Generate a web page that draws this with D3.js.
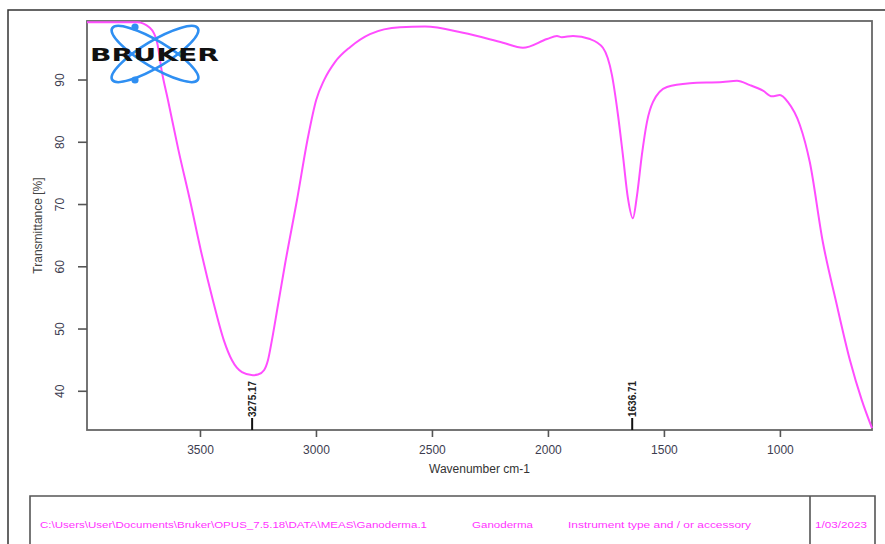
<!DOCTYPE html>
<html>
<head>
<meta charset="utf-8">
<script src="https://cdn.jsdelivr.net/npm/d3@7"></script>
<style>
  html, body { margin: 0; padding: 0; background: #fff; }
  svg { display: block; font-family: "Liberation Sans", Arial, sans-serif; }
</style>
</head>
<body>
<svg id="chart" width="885" height="544"></svg>
<script>
// ---- data ----
const wavenumbers = [3987, 3771, 3716, 3685, 3664, 3638, 3593, 3543, 3496, 3444, 3397, 3362, 3319, 3272, 3250, 3224, 3207, 3190, 3164, 3134, 3082, 3034, 2999, 2965, 2918, 2853, 2767, 2638, 2530, 2366, 2194, 2108, 2004, 1961, 1940, 1892, 1819, 1763, 1724, 1698, 1677, 1655, 1634, 1616, 1595, 1573, 1547, 1487, 1388, 1246, 1185, 1129, 1073, 1034, 1000, 966, 914, 871, 815, 759, 698, 647, 603];
const transmittance = [99.2, 99.2, 98.3, 96.0, 91.2, 86.7, 78.7, 70.6, 62.5, 54.5, 48.1, 44.9, 43.0, 42.5, 42.6, 43.3, 44.9, 48.1, 53.7, 60.2, 70.6, 80.8, 86.7, 89.9, 92.8, 95.2, 97.3, 98.4, 98.5, 97.5, 95.9, 95.1, 96.5, 97.0, 96.8, 97.0, 96.5, 95.1, 90.7, 84.3, 77.9, 70.9, 67.7, 71.4, 77.9, 83.2, 86.4, 88.8, 89.4, 89.6, 89.8, 89.1, 88.2, 87.3, 87.5, 86.4, 82.7, 76.7, 63.9, 54.5, 44.9, 38.5, 34.0];
const xTicks = [3500, 3000, 2500, 2000, 1500, 1000];
const yTicks = [40, 50, 60, 70, 80, 90];
const peaks = [3275.17, 1636.71];
const peakLabels = ["3275.17", "1636.71"];
const xTitle = "Wavenumber cm-1";
const yTitle = "Transmittance [%]";
const footerTexts = ["C:\\Users\\User\\Documents\\Bruker\\OPUS_7.5.18\\DATA\\MEAS\\Ganoderma.1", "Ganoderma", "Instrument type and / or accessory", "1/03/2023"];

// ---- layout ----
const svg = d3.select("#chart");
const plot = { left: 87, right: 872, top: 21, bottom: 430 };
const x = d3.scaleLinear().domain([3987, 603]).range([plot.left, plot.right]);
const y = d3.scaleLinear().domain([33.7, 99.4]).range([plot.bottom, plot.top]);

// outer frame (only top and left visible)
svg.append("path").attr("d", "M8,544 L8,10 L885,10")
  .attr("fill", "none").attr("stroke", "#333").attr("stroke-width", 1.5);

// plot frame
svg.append("rect").attr("x", plot.left).attr("y", plot.top)
  .attr("width", plot.right - plot.left).attr("height", plot.bottom - plot.top)
  .attr("fill", "none").attr("stroke", "#666").attr("stroke-width", 1.8);

// axes
const xAxis = d3.axisBottom(x).tickValues(xTicks).tickSize(7).tickPadding(8).tickFormat(d3.format("d"));
const gx = svg.append("g").attr("transform", `translate(0,${plot.bottom})`).call(xAxis);
gx.select(".domain").remove();
gx.selectAll("line").attr("stroke", "#555").attr("stroke-width", 1.6);
gx.selectAll("text").attr("fill", "#3d3d50").attr("font-size", 12)
  .attr("font-family", "Liberation Sans, Arial, sans-serif");

const yAxis = d3.axisLeft(y).tickValues(yTicks).tickSize(9).tickFormat(d3.format("d"));
const gy = svg.append("g").attr("transform", `translate(${plot.left},0)`).call(yAxis);
gy.select(".domain").remove();
gy.selectAll("line").attr("stroke", "#555").attr("stroke-width", 1.6);
gy.selectAll("text")
  .attr("fill", "#3d3d50").attr("font-size", 12)
  .attr("font-family", "Liberation Sans, Arial, sans-serif")
  .attr("text-anchor", "middle").attr("dy", null).attr("x", null)
  .attr("transform", "translate(-27,0) rotate(-90)")
  .attr("dy", "0.35em");

// axis titles
svg.append("text").attr("x", (plot.left + plot.right) / 2).attr("y", 473)
  .attr("text-anchor", "middle").attr("font-size", 12).attr("fill", "#333").text(xTitle);
svg.append("text").attr("transform", `translate(42,${(plot.top + plot.bottom) / 2}) rotate(-90)`)
  .attr("text-anchor", "middle").attr("font-size", 12).attr("fill", "#444").text(yTitle);

// Bruker logo
const logo = svg.append("g");
const lc = { x: 155, y: 54 };
[-31, 31].forEach(a => {
  logo.append("ellipse").attr("cx", lc.x).attr("cy", lc.y).attr("rx", 50).attr("ry", 13)
    .attr("transform", `rotate(${a},${lc.x},${lc.y})`)
    .attr("fill", "none").attr("stroke", "#2f8ff2").attr("stroke-width", 2.6);
});
[[135, 27], [135, 80]].forEach(p => {
  logo.append("circle").attr("cx", p[0]).attr("cy", p[1]).attr("r", 3.6).attr("fill", "#2f8ff2");
});

// spectrum line
const line = d3.line().x((d, i) => x(wavenumbers[i])).y(d => y(d)).curve(d3.curveMonotoneX);
svg.append("path").datum(transmittance).attr("d", line)
  .attr("fill", "none").attr("stroke", "#ff4dff").attr("stroke-width", 2);

logo.raise();
logo.append("text").attr("x", 90).attr("y", 61).attr("font-size", 18).attr("font-weight", 900)
  .attr("font-family", "DejaVu Sans, Arial, sans-serif")
  .attr("textLength", 129).attr("lengthAdjust", "spacingAndGlyphs")
  .attr("fill", "#111").text("BRUKER");

// peak labels
peaks.forEach((p, i) => {
  const px = x(p);
  svg.append("line").attr("x1", px).attr("x2", px).attr("y1", plot.bottom).attr("y2", plot.bottom - 12)
    .attr("stroke", "#111").attr("stroke-width", 2);
  svg.append("text").attr("transform", `translate(${px + 3.5},${plot.bottom - 13}) rotate(-90)`)
    .attr("font-size", 10).attr("font-weight", "bold").attr("fill", "#222").text(peakLabels[i]);
});

// footer box
svg.append("path").attr("d", "M30,544 L30,496 L875,496 L875,544 M810,496 L810,544")
  .attr("fill", "none").attr("stroke", "#555").attr("stroke-width", 1.6);
const footX = [40, 472, 568, 815];
const footW = [387, 61, 183, 52];
footerTexts.forEach((t, i) => {
  svg.append("text").attr("x", footX[i]).attr("y", 528).attr("font-size", 9)
    .attr("fill", "#ff33ff").attr("textLength", footW[i]).attr("lengthAdjust", "spacingAndGlyphs").text(t);
});
</script>
</body>
</html>
